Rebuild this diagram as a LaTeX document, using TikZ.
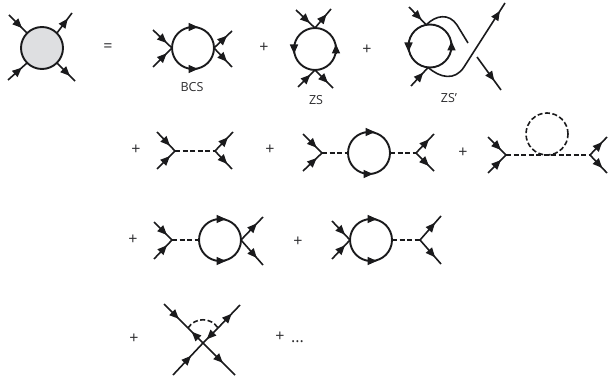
\documentclass[tikz,border=0pt]{standalone}
\usepackage{xcolor}
\usepackage{fontspec}
\setmainfont{Open Sans}
\usetikzlibrary{calc,arrows.meta,decorations.markings}
\definecolor{lineInk}{RGB}{26,26,28}
\definecolor{blobGray}{RGB}{222,223,225}
\definecolor{labelInk}{RGB}{45,45,47}
\tikzset{
  fermionTip/.tip={Triangle[length=9.5pt,width=8pt]},
  fermion/.style={line width=1.6pt,draw=lineInk,postaction={decorate},
    decoration={markings,mark=at position #1 with {\arrow{fermionTip}}}},
  fermion/.default=0.72,
  plainLine/.style={line width=1.6pt,draw=lineInk},
  boson/.style={line width=1.6pt,draw=lineInk,dash pattern=on 5pt off 2.5pt},
  bubble/.style={circle,draw=lineInk,line width=1.9pt,minimum size=42pt,inner sep=0pt,outer sep=0pt},
  bosonBubble/.style={bubble,line width=1.6pt,dash pattern=on 5pt off 2.5pt},
  loopTip/.style={draw=lineInk,line width=1.6pt,-{fermionTip}},
  opSign/.style={font=\fontsize{16}{16}\selectfont,text=labelInk,inner sep=0pt},
  tagText/.style={font=\fontsize{12.5}{12.5}\selectfont,text=labelInk,inner sep=0pt}
}
\begin{document}
\begin{tikzpicture}[x=1pt,y=-1pt]
\useasboundingbox (0,0) rectangle (609,382);

\node[bubble,fill=blobGray] (blob) at (42,48) {};
\draw[fermion] (9,15) coordinate (blobA) -- (blob.135);
\draw[fermion] (8,80) coordinate (blobB) -- (blob.225);
\draw[fermion] (blob.45) -- (72,13) coordinate (blobC);
\draw[fermion] (blob.-45) -- (75,81) coordinate (blobD);
\node[opSign] (eqSign) at (108,48) {=};

\node[bubble] (bcs) at (193,48) {};
\coordinate (bcsA) at (153,30);
\coordinate (bcsB) at (153,67);
\coordinate (bcsC) at (232,31);
\coordinate (bcsD) at (232,67);
\draw[fermion] (bcsA) -- (bcs.west);
\draw[fermion] (bcsB) -- (bcs.west);
\draw[fermion] (bcs.east) -- (bcsC);
\draw[fermion] (bcs.east) -- (bcsD);
\draw[loopTip] ([xshift=-4pt]bcs.north) -- ([xshift=5pt]bcs.north);
\draw[loopTip] ([xshift=-4pt]bcs.south) -- ([xshift=5pt]bcs.south);
\node[tagText] (bcsTag) at (192,87) {BCS};
\node[opSign] (plusA) at (264,48) {+};

\node[bubble] (zs) at (315,49) {};
\coordinate (zsA) at (296,10);
\coordinate (zsB) at (298,87);
\coordinate (zsC) at (331,9);
\coordinate (zsD) at (333,88);
\draw[fermion] (zsA) -- (zs.north);
\draw[fermion] (zsB) -- (zs.south);
\draw[fermion] (zs.north) -- (zsC);
\draw[fermion] (zs.south) -- (zsD);
\draw[loopTip] ([yshift=4pt]zs.west) -- ([yshift=-5pt]zs.west);
\draw[loopTip] ([yshift=-4pt]zs.east) -- ([yshift=5pt]zs.east);
\node[tagText] (zsTag) at (316,100) {ZS};
\node[opSign] (plusB) at (367,50) {+};

\node[bubble,minimum size=43pt] (zsp) at (430,46) {};
\coordinate (zspA) at (409,7);
\coordinate (zspB) at (411,86);
\coordinate (zspC) at (505,3);
\coordinate (zspD) at (477,57);
\coordinate (zspE) at (501,90);
\coordinate (zspF) at (468,43);
\draw[fermion] (zspA) -- (zsp.100);
\draw[fermion] (zspB) -- (zsp.-95);
\draw[plainLine] (zsp.100) .. controls (436,15) and (449,13) .. (457,25) -- (zspF);
\draw[fermion=0.92] (zsp.-95) .. controls (440,78) and (455,81) .. (464,67) -- (zspC);
\draw[fermion] (zspD) -- (zspE);
\draw[loopTip] ([yshift=2pt]zsp.west) -- ([yshift=-6pt]zsp.west);
\draw[loopTip] ([yshift=-2pt]zsp.east) -- ([yshift=5pt]zsp.east);
\node[tagText] (zspTag) at (449,98) {ZS’};

\node[opSign] (plusC) at (136,150) {+};
\coordinate (treeL) at (175,151);
\coordinate (treeR) at (215,151);
\coordinate (treeA) at (157,132);
\coordinate (treeB) at (157,169);
\coordinate (treeC) at (233,132);
\coordinate (treeD) at (232,169);
\draw[fermion] (treeA) -- (treeL);
\draw[fermion] (treeB) -- (treeL);
\draw[fermion] (treeR) -- (treeC);
\draw[fermion] (treeR) -- (treeD);
\draw[boson] (treeL) -- (treeR);

\node[opSign] (plusD) at (270,150) {+};
\node[bubble] (rpa) at (369,153) {};
\coordinate (rpaL) at (322,153);
\coordinate (rpaR) at (416,153);
\coordinate (rpaA) at (303,134);
\coordinate (rpaB) at (303,171);
\coordinate (rpaC) at (434,134);
\coordinate (rpaD) at (434,171);
\draw[fermion] (rpaA) -- (rpaL);
\draw[fermion] (rpaB) -- (rpaL);
\draw[fermion] (rpaR) -- (rpaC);
\draw[fermion] (rpaR) -- (rpaD);
\draw[boson] (rpaL) -- (rpa.west);
\draw[boson] (rpa.east) -- (rpaR);
\draw[loopTip] ([xshift=-3pt]rpa.north) -- ([xshift=6pt]rpa.north);
\draw[loopTip] ([xshift=-5pt]rpa.south) -- ([xshift=4pt]rpa.south);

\node[opSign] (plusE) at (463,153) {+};
\node[bubble,bosonBubble] (hartree) at (547,134) {};
\coordinate (hartreeL) at (506,155);
\coordinate (hartreeR) at (590,155);
\coordinate (hartreeA) at (488,137);
\coordinate (hartreeB) at (488,173);
\coordinate (hartreeC) at (607,137);
\coordinate (hartreeD) at (607,173);
\draw[fermion] (hartreeA) -- (hartreeL);
\draw[fermion] (hartreeB) -- (hartreeL);
\draw[fermion] (hartreeR) -- (hartreeC);
\draw[fermion] (hartreeR) -- (hartreeD);
\draw[boson] (hartreeL) -- (hartreeR);

\node[opSign] (plusF) at (133,240) {+};
\node[bubble] (mixA) at (220,240) {};
\coordinate (mixAL) at (172,240);
\coordinate (mixAA) at (154,222);
\coordinate (mixAB) at (154,259);
\coordinate (mixAC) at (263,217);
\coordinate (mixAD) at (263,265);
\draw[fermion] (mixAA) -- (mixAL);
\draw[fermion] (mixAB) -- (mixAL);
\draw[boson] (mixAL) -- (mixA.west);
\draw[fermion] (mixA.east) -- (mixAC);
\draw[fermion] (mixA.east) -- (mixAD);
\draw[loopTip] ([xshift=-3pt]mixA.north) -- ([xshift=6pt]mixA.north);
\draw[loopTip] ([xshift=-3pt]mixA.south) -- ([xshift=6pt]mixA.south);

\node[opSign] (plusG) at (298,242) {+};
\node[bubble] (mixB) at (371,240) {};
\coordinate (mixBR) at (420,240);
\coordinate (mixBA) at (332,221);
\coordinate (mixBB) at (332,259);
\coordinate (mixBC) at (441,216);
\coordinate (mixBD) at (441,264);
\draw[fermion] (mixBA) -- (mixB.west);
\draw[fermion] (mixBB) -- (mixB.west);
\draw[boson] (mixB.east) -- (mixBR);
\draw[fermion] (mixBR) -- (mixBC);
\draw[fermion] (mixBR) -- (mixBD);
\draw[loopTip] ([xshift=-3pt]mixB.north) -- ([xshift=6pt]mixB.north);
\draw[loopTip] ([xshift=-3pt]mixB.south) -- ([xshift=6pt]mixB.south);

\node[opSign] (plusH) at (134,339) {+};
\coordinate (crossA) at (164,304);
\coordinate (crossB) at (235,375);
\coordinate (crossC) at (173,375);
\coordinate (crossD) at (240,305);
\coordinate (crossO) at (203,343);
\coordinate (vertexL) at (188,328);
\coordinate (vertexR) at (218,328);
\draw[fermion=0.62] (crossA) -- (vertexL);
\draw[fermion=0.62] (crossO) -- (crossB);
\draw[fermion=0.75] (crossO) -- (vertexL);
\draw[fermion=0.6] (crossC) -- (crossO);
\draw[fermion=0.75] (vertexR) -- (crossO);
\draw[fermion=0.62] (vertexR) -- (crossD);
\draw[boson] (vertexL) .. controls (195,317) and (211,317) .. (vertexR);
\node[opSign] (plusI) at (280,337) {+};
\node[opSign,anchor=west] (dotsText) at (291,342) {...};
\end{tikzpicture}
\end{document}
